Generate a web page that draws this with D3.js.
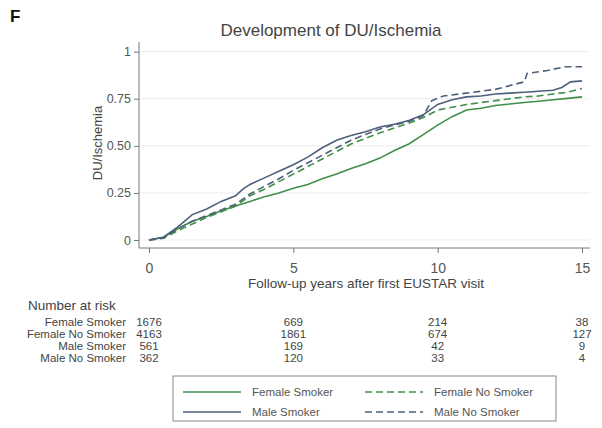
<!DOCTYPE html>
<html>
<head>
<meta charset="utf-8">
<script src="https://cdn.jsdelivr.net/npm/d3@7/dist/d3.min.js"></script>
<style>
  body { margin: 0; background: #fff; }
  svg { font-family: "Liberation Sans", Arial, sans-serif; }
</style>
</head>
<body>
<svg id="chart" width="602" height="428"></svg>
<script>
// series: [year, cumulative incidence]
const femaleSmoker = [[0,0],[0.5,0.015],[1,0.06],[1.5,0.1],[2,0.125],[2.5,0.155],[3,0.18],[3.5,0.205],[4,0.23],[4.5,0.25],[5,0.275],[5.5,0.295],[6,0.325],[6.5,0.35],[7,0.38],[7.5,0.405],[8,0.435],[8.5,0.475],[9,0.51],[9.5,0.56],[10,0.61],[10.5,0.655],[11,0.69],[11.5,0.7],[12,0.714],[12.5,0.722],[13,0.73],[13.5,0.737],[14,0.745],[14.5,0.752],[15,0.76]];
const femaleNoSmoker = [[0,0],[0.5,0.01],[1,0.05],[1.5,0.085],[2,0.12],[2.5,0.15],[3,0.18],[3.5,0.235],[4,0.27],[4.5,0.31],[5,0.35],[5.5,0.39],[6,0.43],[6.5,0.47],[7,0.51],[7.5,0.54],[8,0.57],[8.5,0.595],[9,0.62],[9.5,0.65],[10,0.69],[10.5,0.705],[11,0.72],[11.5,0.73],[12,0.74],[12.5,0.75],[13,0.76],[13.5,0.765],[14,0.775],[14.5,0.785],[15,0.805]];
const maleSmoker = [[0,0],[0.5,0.015],[1,0.07],[1.5,0.135],[2,0.165],[2.5,0.205],[3,0.235],[3.25,0.27],[3.5,0.295],[4,0.33],[4.5,0.365],[5,0.4],[5.5,0.44],[6,0.49],[6.5,0.53],[7,0.555],[7.5,0.575],[8,0.6],[8.5,0.615],[9,0.635],[9.5,0.665],[10,0.72],[10.5,0.745],[11,0.76],[11.5,0.765],[12,0.775],[12.5,0.78],[13,0.785],[13.5,0.79],[14,0.795],[14.3,0.81],[14.6,0.84],[15,0.845]];
const maleNoSmoker = [[0,0],[0.5,0.01],[1,0.06],[1.5,0.1],[2,0.13],[2.5,0.16],[3,0.19],[3.5,0.245],[4,0.285],[4.5,0.325],[5,0.37],[5.5,0.41],[6,0.45],[6.5,0.49],[7,0.53],[7.5,0.56],[8,0.59],[8.5,0.61],[9,0.63],[9.5,0.66],[9.8,0.74],[10.2,0.765],[11,0.78],[12,0.8],[12.5,0.82],[13,0.84],[13.1,0.885],[13.8,0.9],[14.4,0.92],[15,0.92]];

const groups = ["Female Smoker", "Female No Smoker", "Male Smoker", "Male No Smoker"];
const riskYears = [0, 5, 10, 15];
const atRisk = [
  [1676, 669, 214, 38],
  [4163, 1861, 674, 127],
  [561, 169, 42, 9],
  [362, 120, 33, 4]
];
const yTicks = [0, 0.25, 0.5, 0.75, 1];
const yTickLabels = ["0", "0.25", "0.50", "0.75", "1"];
const xTicks = [0, 5, 10, 15];

(function() {
  const svg = d3.select("#chart");
  const green = "#3f8f48";
  const blue = "#4d6079";

  const x = d3.scaleLinear().domain([0, 15]).range([149, 582]);
  const y = d3.scaleLinear().domain([0, 1]).range([240, 51.7]);
  const axisX = 139, axisY = 248, plotRight = 590;

  // panel letter + title
  svg.append("text").attr("x", 10).attr("y", 22)
    .attr("font-size", 17).attr("font-weight", "bold").attr("fill", "#111").text("F");
  svg.append("text").attr("x", 331).attr("y", 36).attr("text-anchor", "middle")
    .attr("font-size", 17).attr("fill", "#444").text("Development of DU/Ischemia");

  // gridlines
  svg.append("g").selectAll("line").data(yTicks).enter().append("line")
    .attr("x1", axisX).attr("x2", plotRight)
    .attr("y1", d => y(d)).attr("y2", d => y(d))
    .attr("stroke", "#ececec").attr("stroke-width", 1);

  // y axis
  const yAxis = svg.append("g").attr("transform", `translate(${axisX},0)`)
    .call(d3.axisLeft(y).tickValues(yTicks).tickSize(5).tickPadding(3)
      .tickFormat((d, i) => yTickLabels[i]));
  yAxis.select(".domain").remove();
  yAxis.selectAll("line").attr("stroke", "#777");
  yAxis.selectAll("text").attr("font-size", 12.5).attr("fill", "#555")
    .attr("font-family", "Liberation Sans, Arial, sans-serif");
  svg.append("line").attr("x1", axisX).attr("x2", axisX).attr("y1", 42).attr("y2", axisY)
    .attr("stroke", "#777");

  // x axis
  const xAxis = svg.append("g").attr("transform", `translate(0,${axisY})`)
    .call(d3.axisBottom(x).tickValues(xTicks).tickSize(5).tickPadding(10));
  xAxis.select(".domain").remove();
  xAxis.selectAll("line").attr("stroke", "#777");
  xAxis.selectAll("text").attr("font-size", 14).attr("fill", "#555")
    .attr("font-family", "Liberation Sans, Arial, sans-serif");
  svg.append("line").attr("x1", axisX).attr("x2", plotRight).attr("y1", axisY).attr("y2", axisY)
    .attr("stroke", "#777");

  // axis titles
  svg.append("text").attr("x", 366).attr("y", 288).attr("text-anchor", "middle")
    .attr("font-size", 13.5).attr("fill", "#444").text("Follow-up years after first EUSTAR visit");
  svg.append("text").attr("transform", "translate(102,143) rotate(-90)").attr("text-anchor", "middle")
    .attr("font-size", 13).attr("fill", "#444").text("DU/Ischemia");

  // curves
  const line = d3.line().x(d => x(d[0])).y(d => y(d[1])).curve(d3.curveLinear);
  const series = [
    { data: femaleSmoker, color: green, dash: null },
    { data: femaleNoSmoker, color: green, dash: "7,4" },
    { data: maleSmoker, color: blue, dash: null },
    { data: maleNoSmoker, color: blue, dash: "7,4" }
  ];
  svg.append("g").selectAll("path").data(series).enter().append("path")
    .attr("d", d => line(d.data))
    .attr("fill", "none")
    .attr("stroke", d => d.color)
    .attr("stroke-width", 1.6)
    .attr("stroke-dasharray", d => d.dash);

  // number at risk
  const risk = svg.append("g").attr("fill", "#444");
  risk.append("text").attr("x", 28).attr("y", 310).attr("font-size", 13.5).text("Number at risk");
  groups.forEach((g, i) => {
    const ry = 325.5 + i * 12.3;
    risk.append("text").attr("x", 126).attr("y", ry).attr("text-anchor", "end")
      .attr("font-size", 11.5).text(g);
    risk.selectAll(null).data(atRisk[i]).enter().append("text")
      .attr("x", (d, j) => x(riskYears[j])).attr("y", ry).attr("text-anchor", "middle")
      .attr("font-size", 11.5).text(d => d);
  });

  // legend
  const lg = svg.append("g");
  lg.append("rect").attr("x", 173).attr("y", 376).attr("width", 383).attr("height", 45)
    .attr("fill", "#fff").attr("stroke", "#888");
  const legendPos = [[183, 392], [365, 392], [183, 412], [365, 412]];
  series.forEach((s, i) => {
    const [lx, ly] = legendPos[i];
    lg.append("line").attr("x1", lx).attr("x2", lx + 58).attr("y1", ly).attr("y2", ly)
      .attr("stroke", s.color).attr("stroke-width", 1.6).attr("stroke-dasharray", s.dash);
    lg.append("text").attr("x", lx + 69).attr("y", ly + 4).attr("font-size", 11.5)
      .attr("fill", "#555").text(groups[i]);
  });
})();
</script>
</body>
</html>
